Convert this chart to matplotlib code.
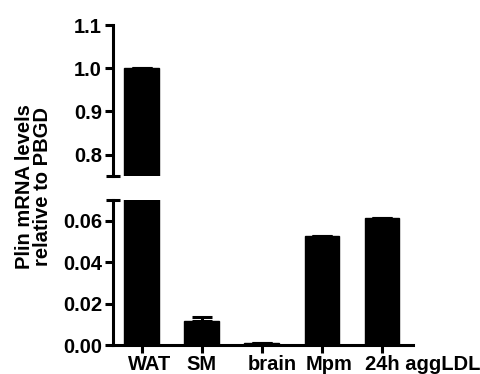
import numpy as np
import matplotlib.pyplot as plt
import matplotlib.transforms as mtransforms

# tissue expression, relative to PBGD
tissues = ['WAT', 'SM', 'brain', 'Mpm', '24h aggLDL']
levels = [1.0, 0.0115, 0.0008, 0.0525, 0.0615]
err_up = [0.0, 0.0022, 0.0003, 0.0, 0.0]

top_ticks = [0.8, 0.9, 1.0, 1.1]
bot_ticks = [0.00, 0.02, 0.04, 0.06]

plt.rcParams['font.family'] = ['Liberation Sans', 'DejaVu Sans']
plt.rcParams['font.weight'] = 'bold'
plt.rcParams['font.size'] = 14.5

fig = plt.figure(figsize=(4.81, 3.74), dpi=100)
ax_top = fig.add_axes([0.235, 0.529, 0.624, 0.404])
ax_bot = fig.add_axes([0.235, 0.0775, 0.624, 0.388])

x = np.arange(len(tissues))
lw = 2.2

for ax in (ax_top, ax_bot):
    ax.bar(x, levels, width=0.58, color='black', edgecolor='black')
    ax.errorbar(x, levels, yerr=[np.zeros(len(x)), err_up], fmt='none',
                ecolor='black', elinewidth=lw, capsize=7, capthick=lw)
    ax.set_xlim(-0.48, 4.52)
    ax.spines['top'].set_visible(False)
    ax.spines['right'].set_visible(False)
    ax.spines['left'].set_linewidth(lw)
    ax.spines['bottom'].set_linewidth(lw)
    ax.tick_params(width=lw, length=6, pad=2)

# upper part
ax_top.set_ylim(0.75, 1.1)
ax_top.set_yticks(top_ticks)
ax_top.set_yticklabels(['%.1f' % t for t in top_ticks], fontweight='bold')
ax_top.spines['bottom'].set_visible(False)
ax_top.set_xticks([])
ax_top.plot([-0.022, 0.022], [0, 0], color='black', lw=lw,
            transform=ax_top.transAxes, clip_on=False, solid_capstyle='butt')

# lower part
ax_bot.set_ylim(0, 0.07)
ax_bot.set_yticks(bot_ticks)
ax_bot.set_yticklabels(['%.2f' % t for t in bot_ticks], fontweight='bold')
ax_bot.set_xticks(x)
ax_bot.set_xticklabels(tissues, fontweight='bold')
ax_bot.tick_params(axis='x', pad=1)
ax_bot.plot([-0.022, 0.022], [1, 1], color='black', lw=lw,
            transform=ax_bot.transAxes, clip_on=False, solid_capstyle='butt')

# labels in the original sit a bit right of their ticks
shifts = [8, 0, 10, 7, 41]
for lab, dx in zip(ax_bot.get_xticklabels(), shifts):
    lab.set_transform(lab.get_transform() +
                      mtransforms.ScaledTranslation(dx / 100, 0, fig.dpi_scale_trans))

fig.text(0.069, 0.5, 'Plin mRNA levels\nrelative to PBGD', rotation=90,
         ha='center', va='center', fontweight='bold', fontsize=14.5,
         linespacing=0.95)

plt.savefig('out.png', dpi=100)
